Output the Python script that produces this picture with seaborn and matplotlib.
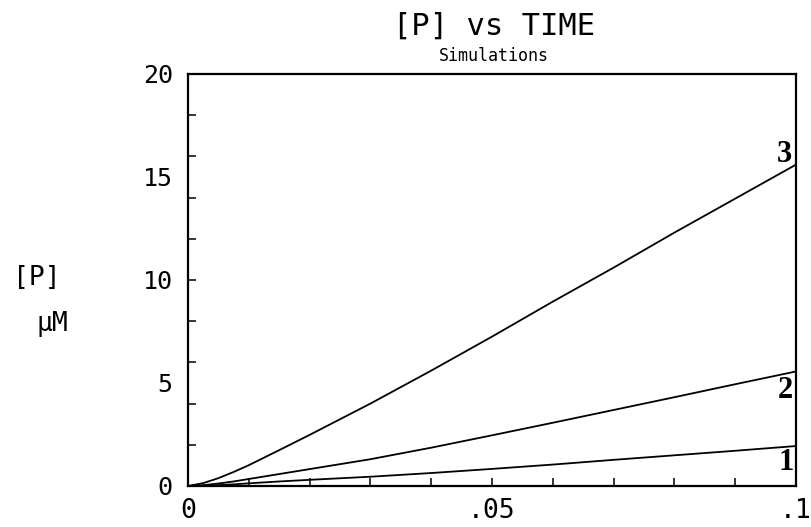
import matplotlib
matplotlib.use("Agg")
import matplotlib.pyplot as plt
import seaborn as sns
import pandas as pd
from matplotlib.ticker import FixedLocator, FixedFormatter

# Simulated product concentration [P] (uM) against time for three runs
time = [0, 0.0025, 0.005, 0.0075, 0.01, 0.015, 0.02, 0.03, 0.04,
        0.05, 0.06, 0.07, 0.08, 0.09, 0.1]
p_run1 = [0, 0.01, 0.04, 0.08, 0.13, 0.22, 0.30, 0.45, 0.63,
          0.83, 1.04, 1.27, 1.49, 1.71, 1.94]
p_run2 = [0, 0.04, 0.12, 0.22, 0.34, 0.58, 0.82, 1.30, 1.86,
          2.46, 3.07, 3.69, 4.31, 4.94, 5.56]
p_run3 = [0, 0.14, 0.38, 0.68, 1.01, 1.74, 2.48, 4.00, 5.60,
          7.25, 8.95, 10.60, 12.30, 13.95, 15.60]
run_labels = ["1", "2", "3"]

x_tick_values = [0, 0.05, 0.1]
x_tick_labels = ["0", ".05", ".1"]
y_tick_values = [0, 5, 10, 15, 20]
y_tick_labels = ["0", "5", "10", "15", "20"]

sns.set_style("white")
plt.rcParams["font.family"] = ["DejaVu Sans Mono", "DejaVu Sans"]
plt.rcParams["text.color"] = "black"
plt.rcParams["xtick.color"] = "black"
plt.rcParams["ytick.color"] = "black"

df = pd.DataFrame({
    "time": time * 3,
    "P": p_run1 + p_run2 + p_run3,
    "run": [r for r in run_labels for _ in time],
})

fig = plt.figure(figsize=(8.12, 5.27), dpi=100)
ax = fig.add_axes([0.2315, 0.0778, 0.7488, 0.7818])

sns.lineplot(data=df, x="time", y="P", hue="run",
             palette={r: "black" for r in run_labels},
             linewidth=1.3, legend=False, ax=ax, estimator=None)

ax.set_xlim(0, 0.1)
ax.set_ylim(0, 20)
ax.set_xlabel("")
ax.set_ylabel("")

for s in ax.spines.values():
    s.set_visible(True)
    s.set_color("black")
    s.set_linewidth(1.6)

# x axis: labelled ticks at 0, .05, .1 and inward ticks every .01
ax.xaxis.set_major_locator(FixedLocator(x_tick_values))
ax.xaxis.set_major_formatter(FixedFormatter(x_tick_labels))
ax.xaxis.set_minor_locator(FixedLocator([i / 100 for i in range(1, 10)]))
ax.tick_params(axis="x", which="both", bottom=True, top=False)
ax.tick_params(axis="x", which="major", direction="in", length=6,
               width=1.1, labelsize=19, pad=9, color="black",
               labelcolor="black")
ax.tick_params(axis="x", which="minor", direction="in", length=6,
               width=1.1, color="black")

# y axis: labels every 5, inward ticks every 2
ax.yaxis.remove_overlapping_locs = False
ax.yaxis.set_major_locator(FixedLocator(y_tick_values))
ax.yaxis.set_major_formatter(FixedFormatter(y_tick_labels))
ax.yaxis.set_minor_locator(FixedLocator(list(range(2, 20, 2))))
ax.tick_params(axis="y", which="both", left=True, right=False)
ax.tick_params(axis="y", which="major", direction="in", length=0,
               labelsize=18, pad=11, labelcolor="black")
ax.tick_params(axis="y", which="minor", direction="in", length=6,
               width=1.1, color="black")

# run numbers next to the end of each curve
offsets = {"1": (-7.2, -11.5), "2": (-7.9, -13.7), "3": (-8.6, 7.2)}
for lab, series in zip(run_labels, [p_run1, p_run2, p_run3]):
    ax.annotate(lab, xy=(time[-1], series[-1]), xytext=offsets[lab],
                textcoords="offset points", ha="center", va="center",
                fontsize=22, fontweight="bold", color="black",
                family=["Liberation Serif", "DejaVu Serif"])

fig.text(494 / 812, 1 - 26 / 527, "[P] vs TIME", ha="center", va="center",
         fontsize=22)
fig.text(494 / 812, 1 - 56 / 527, "Simulations", ha="center", va="center",
         fontsize=12)
fig.text(37 / 812, 1 - 278 / 527, "[P]", ha="center", va="center",
         fontsize=19)
fig.text(52 / 812, 1 - 324 / 527, "μM", ha="center", va="center",
         fontsize=19)

fig.savefig("out.png", dpi=100)
